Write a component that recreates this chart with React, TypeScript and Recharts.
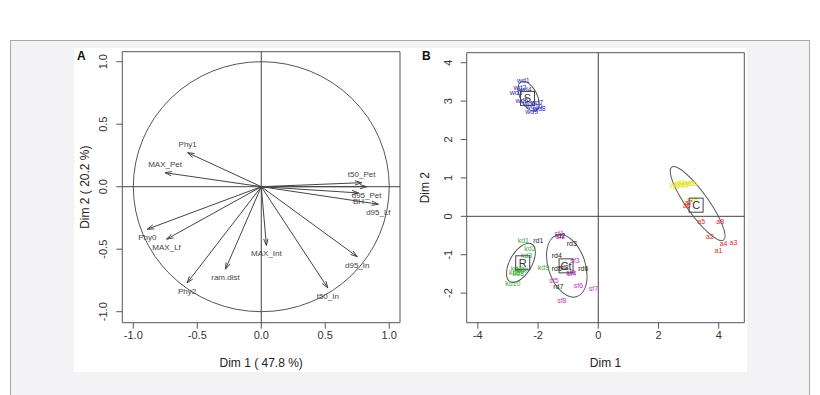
import React from 'react';
import { ScatterChart, Scatter, XAxis, YAxis, ReferenceLine, ReferenceArea } from 'recharts';

const FONT = '"Liberation Sans", Arial, sans-serif';

// --- Panel A: variables (correlation circle) ---
const varNames = ['Phy1', 'MAX_Pet', 't50_Pet', 'd95_Pet', 'BH', 'd95_Lf', 'Phy0', 'MAX_Lf', 'ram.dist', 'Phy2', 'MAX_Int', 't50_In', 'd95_In'];
const varDim1 = [-0.575, -0.752, 0.784, 0.823, 0.76, 0.915, -0.89, -0.74, -0.28, -0.58, 0.04, 0.52, 0.75];
const varDim2 = [0.272, 0.112, 0.032, 0.0, -0.05, -0.14, -0.34, -0.42, -0.66, -0.77, -0.47, -0.81, -0.56];
const ticksA = [-1, -0.5, 0, 0.5, 1];

// --- Panel B: individuals ---
const sNames = ['wd1', 'wd2', 'wd3', 'wd4', 'wd5', 'wd6', 'wd7', 'wd8', 'wd9', 'wd10'];
const sX = [-2.49, -2.6, -2.73, -2.43, -2.54, -2.29, -2.04, -1.96, -2.21, -2.13];
const sY = [3.53, 3.36, 3.22, 3.31, 3.01, 2.94, 2.96, 2.8, 2.72, 2.85];

const rNames = ['kd1', 'kd2', 'kd3', 'kd4', 'kd5', 'kd6', 'kd7', 'kd8', 'kd9', 'kd10'];
const rX = [-2.49, -2.27, -2.38, -2.72, -2.6, -2.78, -2.52, -2.66, -1.82, -2.84];
const rY = [-0.62, -0.85, -1.02, -1.36, -1.38, -1.45, -1.42, -1.5, -1.33, -1.74];

const ctNames = ['rd1', 'rd2', 'rd3', 'rd4', 'rd5', 'rd6', 'rd7', 'rd8'];
const ctX = [-1.99, -1.27, -0.88, -1.38, -1.38, -0.5, -1.33, -1.15];
const ctY = [-0.63, -0.49, -0.72, -1.01, -1.36, -1.36, -1.83, -1.32];

const mNames = ['sf1', 'sf2', 'sf3', 'sf4', 'sf5', 'sf6', 'sf7', 'sf8', 'sf9'];
const mX = [-1.3, -1.25, -0.77, -0.88, -1.47, -0.66, -0.16, -1.21, -0.92];
const mY = [-0.46, -0.52, -1.14, -1.5, -1.66, -1.81, -1.88, -2.2, -1.45];

const aNames = ['a6', 'a7', 'a5', 'a8', 'a2', 'a4', 'a3', 'a1'];
const aX = [2.94, 3.0, 3.42, 4.05, 3.71, 4.16, 4.49, 3.99];
const aY = [0.29, 0.35, -0.14, -0.14, -0.53, -0.7, -0.69, -0.88];

const yNames = ['yd1', 'yd2', 'yd3', 'yd4', 'yd5', 'yd6', 'yd7', 'yd8'];
const yX = [2.55, 2.68, 2.8, 2.9, 3.0, 3.1, 2.65, 3.12];
const yY = [0.84, 0.87, 0.82, 0.88, 0.85, 0.86, 0.8, 0.44];

const groupNames = ['S', 'R', 'Ct', 'C'];
const groupX = [-2.35, -2.51, -1.07, 3.25];
const groupY = [3.07, -1.21, -1.29, 0.29];
// ellipse major axis ends (data units) and half minor axis (px)
const ellX1 = [-2.56, -2.21, -1.38, 2.44];
const ellY1 = [3.5, -0.72, -0.49, 1.28];
const ellX2 = [-2.07, -2.93, -0.71, 4.16];
const ellY2 = [2.75, -1.7, -2.09, -0.62];
const ellMinor = [8.5, 11, 18.5, 11];

const ticksBx = [-4, -2, 0, 2, 4];
const ticksBy = [-2, -1, 0, 1, 2, 3, 4];

const toPoints = (names: string[], xs: number[], ys: number[]) => names.map((name, i) => ({ name, x: xs[i], y: ys[i] }));

const varData = toPoints(varNames, varDim1, varDim2);
const groupData = toPoints(groupNames, groupX, groupY);

const Arrow = (p: any) => {
  const { x1, y1, x2, y2 } = p;
  if ([x1, y1, x2, y2].some((v) => v == null || isNaN(v))) return null;
  const ang = Math.atan2(y2 - y1, x2 - x1);
  const len = 7;
  const spread = Math.PI / 10;
  const ax = x2 - len * Math.cos(ang - spread);
  const ay = y2 - len * Math.sin(ang - spread);
  const bx = x2 - len * Math.cos(ang + spread);
  const by = y2 - len * Math.sin(ang + spread);
  return (
    <g>
      <line x1={x1} y1={y1} x2={x2} y2={y2} stroke="#444" strokeWidth={1} />
      <polyline points={`${ax},${ay} ${x2},${y2} ${bx},${by}`} fill="none" stroke="#444" strokeWidth={1} />
    </g>
  );
};

const VarLabel = (p: any) => {
  const above = p.payload.y > 0;
  return (
    <text x={p.cx} y={above ? p.cy - 6 : p.cy + 11} textAnchor="middle" fontSize={8} fill="#444" fontFamily={FONT}>
      {p.payload.name}
    </text>
  );
};

const makeEllipse = (ry: number) => (p: any) => {
  const { x1, y1, x2, y2 } = p;
  if ([x1, y1, x2, y2].some((v) => v == null || isNaN(v))) return null;
  const cx = (x1 + x2) / 2;
  const cy = (y1 + y2) / 2;
  const rx = Math.hypot(x2 - x1, y2 - y1) / 2;
  const deg = (Math.atan2(y2 - y1, x2 - x1) * 180) / Math.PI;
  return <ellipse cx={cx} cy={cy} rx={rx} ry={ry} transform={`rotate(${deg} ${cx} ${cy})`} fill="none" stroke="#555" strokeWidth={1} />;
};

const CircleShape = (p: any) => (
  <ellipse cx={p.x + p.width / 2} cy={p.y + p.height / 2} rx={p.width / 2} ry={p.height / 2} fill="none" stroke="#555" strokeWidth={1} />
);

const textPoint = (color: string) => (p: any) => (
  <text x={p.cx} y={p.cy} dy={2.5} textAnchor="middle" fontSize={7} fill={color} fontFamily={FONT}>
    {p.payload.name}
  </text>
);

const GroupBox = (p: any) => (
  <g>
    <rect x={p.cx - 7} y={p.cy - 7} width={14} height={14} fill="none" stroke="#444" strokeWidth={1} />
    <text x={p.cx} y={p.cy + 4} textAnchor="middle" fontSize={11} fill="#333" fontFamily={FONT}>
      {p.payload.name}
    </text>
  </g>
);

const yTick = (fmt: (v: number) => string) => (p: any) => (
  <text x={p.x - 7} y={p.y} transform={`rotate(-90 ${p.x - 7} ${p.y})`} textAnchor="middle" fontSize={11} fill="#333" fontFamily={FONT}>
    {fmt(p.payload.value)}
  </text>
);

const xTick = (fmt: (v: number) => string) => (p: any) => (
  <text x={p.x} y={p.y + 8} textAnchor="middle" fontSize={11} fill="#333" fontFamily={FONT}>
    {fmt(p.payload.value)}
  </text>
);

const fmtA = (v: number) => v.toFixed(1);
const fmtB = (v: number) => String(v);

const xTitle = (text: string) => (p: any) => {
  const vb = p.viewBox;
  return (
    <text x={vb.x + vb.width / 2} y={vb.y + 44} textAnchor="middle" fontSize={12} fill="#222" fontFamily={FONT}>
      {text}
    </text>
  );
};

const yTitle = (text: string, dx: number) => (p: any) => {
  const vb = p.viewBox;
  const x = vb.x + dx;
  const y = vb.y + vb.height / 2;
  return (
    <text x={x} y={y} transform={`rotate(-90 ${x} ${y})`} textAnchor="middle" fontSize={12} fill="#222" fontFamily={FONT}>
      {text}
    </text>
  );
};

const domAx: [number, number] = [-1.086, 1.084];
const domAy: [number, number] = [-1.088, 1.08];
const domBx: [number, number] = [-4.37, 4.85];
const domBy: [number, number] = [-2.77, 4.26];

export default function App() {
  return (
    <div style={{ position: 'absolute', left: 0, top: 0, width: 820, height: 395, overflow: 'hidden', background: '#fff' }}>
      <div style={{ position: 'absolute', left: 10, top: 40, width: 798, height: 370, border: '1px solid #a8a8a8', background: '#f3f3f5' }} />
      <div style={{ position: 'absolute', left: 74, top: 48, width: 673, height: 324, background: '#fff' }} />

      <div style={{ position: 'absolute', left: 74, top: 48 }}>
        <ScatterChart width={336} height={323} margin={{ top: 3.7, right: 10, bottom: 0, left: 0 }}>
          <XAxis
            type="number"
            dataKey="x"
            domain={domAx}
            ticks={ticksA}
            allowDataOverflow
            interval={0}
            height={48.3}
            axisLine={false}
            tickSize={6}
            tickLine={{ stroke: '#555' }}
            tick={xTick(fmtA)}
            label={{ content: xTitle('Dim 1 ( 47.8 %)') } as any}
          />
          <YAxis
            type="number"
            dataKey="y"
            domain={domAy}
            ticks={ticksA}
            allowDataOverflow
            interval={0}
            width={48.3}
            axisLine={false}
            tickSize={6}
            tickLine={{ stroke: '#555' }}
            tick={yTick(fmtA)}
            label={{ content: yTitle('Dim 2 ( 20.2 %)', 15) } as any}
          />
          <ReferenceArea x1={domAx[0]} x2={domAx[1]} y1={domAy[0]} y2={domAy[1]} fill="none" stroke="#555" strokeWidth={1} fillOpacity={0} />
          <ReferenceArea x1={-1} x2={1} y1={-1} y2={1} shape={CircleShape} />
          <ReferenceLine x={0} stroke="#444" strokeWidth={1} />
          <ReferenceLine y={0} stroke="#444" strokeWidth={1} />
          {varData.map((d) => (
            <ReferenceLine key={d.name} segment={[{ x: 0, y: 0 }, { x: d.x, y: d.y }]} shape={Arrow} />
          ))}
          <Scatter data={varData} shape={VarLabel} isAnimationActive={false} />
        </ScatterChart>
      </div>

      <div style={{ position: 'absolute', left: 410, top: 48 }}>
        <ScatterChart width={337} height={323} margin={{ top: 4.7, right: 2.7, bottom: 0, left: 0 }}>
          <XAxis
            type="number"
            dataKey="x"
            domain={domBx}
            ticks={ticksBx}
            allowDataOverflow
            interval={0}
            height={48.3}
            axisLine={false}
            tickSize={6}
            tickLine={{ stroke: '#555' }}
            tick={xTick(fmtB)}
            label={{ content: xTitle('Dim 1') } as any}
          />
          <YAxis
            type="number"
            dataKey="y"
            domain={domBy}
            ticks={ticksBy}
            allowDataOverflow
            interval={0}
            width={56.7}
            axisLine={false}
            tickSize={6}
            tickLine={{ stroke: '#555' }}
            tick={yTick(fmtB)}
            label={{ content: yTitle('Dim 2', 19) } as any}
          />
          <ReferenceArea x1={domBx[0]} x2={domBx[1]} y1={domBy[0]} y2={domBy[1]} fill="none" stroke="#555" strokeWidth={1} fillOpacity={0} />
          <ReferenceLine x={0} stroke="#444" strokeWidth={1} />
          <ReferenceLine y={0} stroke="#444" strokeWidth={1} />
          {groupNames.map((g, i) => (
            <ReferenceLine key={g} segment={[{ x: ellX1[i], y: ellY1[i] }, { x: ellX2[i], y: ellY2[i] }]} shape={makeEllipse(ellMinor[i])} />
          ))}
          <Scatter data={toPoints(yNames, yX, yY)} shape={textPoint('#e4e41a')} isAnimationActive={false} />
          <Scatter data={toPoints(aNames, aX, aY)} shape={textPoint('#ee2222')} isAnimationActive={false} />
          <Scatter data={toPoints(sNames, sX, sY)} shape={textPoint('#2a2ad0')} isAnimationActive={false} />
          <Scatter data={toPoints(rNames, rX, rY)} shape={textPoint('#33b033')} isAnimationActive={false} />
          <Scatter data={toPoints(mNames, mX, mY)} shape={textPoint('#cc33cc')} isAnimationActive={false} />
          <Scatter data={toPoints(ctNames, ctX, ctY)} shape={textPoint('#222')} isAnimationActive={false} />
          <Scatter data={groupData} shape={GroupBox} isAnimationActive={false} />
        </ScatterChart>
      </div>

      <div style={{ position: 'absolute', left: 77, top: 49, fontFamily: FONT, fontWeight: 'bold', fontSize: 12, color: '#111' }}>A</div>
      <div style={{ position: 'absolute', left: 422, top: 49, fontFamily: FONT, fontWeight: 'bold', fontSize: 12, color: '#111' }}>B</div>
    </div>
  );
}
